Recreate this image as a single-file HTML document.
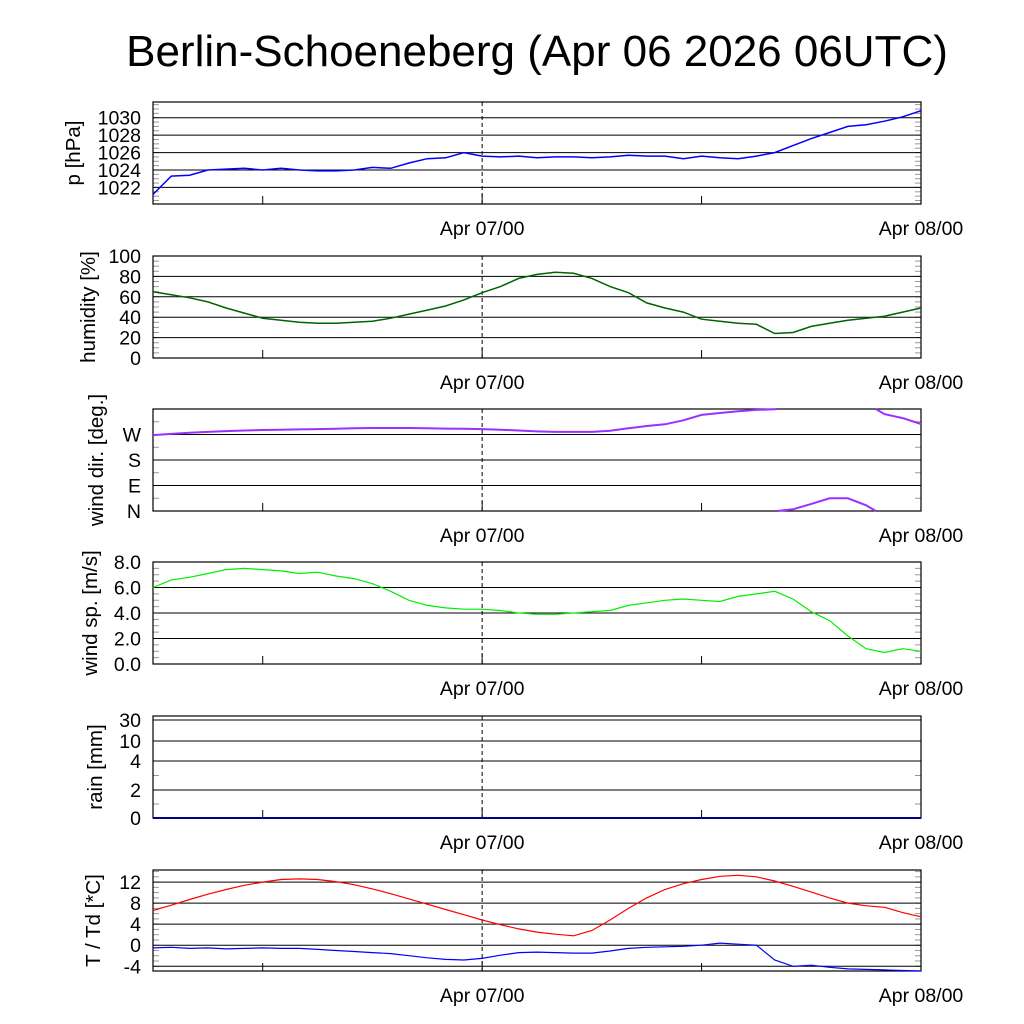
<!DOCTYPE html>
<html><head><meta charset="utf-8"><style>
body{margin:0;background:#fff}
svg{display:block;font-family:"Liberation Sans",sans-serif}
</style></head><body>
<svg id="c" width="1024" height="1024" viewBox="0 0 1024 1024">
<text x="537" y="66" font-size="44" text-anchor="middle">Berlin-Schoeneberg (Apr 06 2026 06UTC)</text>
</svg>
<script>
const hours=[0,1,2,3,4,5,6,7,8,9,10,11,12,13,14,15,16,17,18,19,20,21,22,23,24,25,26,27,28,29,30,31,32,33,34,35,36,37,38,39,40,41,42];
const pressure=[1021.2,1023.3,1023.4,1024.0,1024.1,1024.2,1024.0,1024.2,1024.0,1023.9,1023.9,1024.0,1024.3,1024.2,1024.8,1025.3,1025.4,1026.0,1025.6,1025.5,1025.6,1025.4,1025.5,1025.5,1025.4,1025.5,1025.7,1025.6,1025.6,1025.3,1025.6,1025.4,1025.3,1025.6,1026.0,1026.8,1027.6,1028.3,1029.0,1029.2,1029.6,1030.1,1030.8];
const humidity=[65,62,59,55,49,44,39,37,35,34,34,35,36,39,43,47,51,57,64,70,78,82,84,83,78,70,64,54,49,45,38,36,34,33,24,25,31,34,37,39,41,45,49];
const windDir=[268,272,276,279,282,284,286,287,288,289,290,292,293,293,293,292,291,290,289,287,284,281,279,279,279,283,292,300,306,320,339,346,352,357,359,6,25,45,45,20,342,328,307];
const windSpeed=[6.0,6.6,6.8,7.1,7.4,7.5,7.4,7.3,7.1,7.2,6.9,6.7,6.3,5.7,5.0,4.6,4.4,4.3,4.3,4.2,4.0,3.9,3.9,4.0,4.1,4.2,4.6,4.8,5.0,5.1,5.0,4.9,5.3,5.5,5.7,5.1,4.1,3.4,2.2,1.2,0.9,1.2,1.0];
const rain=[0,0,0,0,0,0,0,0,0,0,0,0,0,0,0,0,0,0,0,0,0,0,0,0,0,0,0,0,0,0,0,0,0,0,0,0,0,0,0,0,0,0,0];
const temp=[6.6,7.6,8.7,9.7,10.6,11.4,12.0,12.5,12.6,12.5,12.1,11.5,10.7,9.8,8.8,7.8,6.8,5.8,4.8,3.9,3.1,2.5,2.1,1.8,2.8,4.8,7.0,9.0,10.6,11.7,12.5,13.1,13.3,13.0,12.2,11.2,10.1,9.0,8.0,7.5,7.2,6.2,5.4];
const dew=[-0.5,-0.4,-0.6,-0.5,-0.7,-0.6,-0.5,-0.6,-0.6,-0.8,-1.0,-1.2,-1.4,-1.6,-2.0,-2.4,-2.7,-2.8,-2.5,-1.9,-1.4,-1.3,-1.4,-1.5,-1.5,-1.1,-0.6,-0.4,-0.3,-0.2,0.0,0.4,0.2,0.0,-2.8,-4.0,-3.8,-4.2,-4.5,-4.6,-4.7,-4.8,-4.9];
const pTicks=[1022,1024,1026,1028,1030];
const hTicks=[0,20,40,60,80,100];
const dirTicks=[0,90,180,270];
const dirLabels=["N","E","S","W"];
const wsTicks=[0,2,4,6,8];
const rainTicks=[0,2,4,10,30];
const tTicks=[-4,0,4,8,12];
const timeLabels=["Apr 07/00","Apr 08/00"];
const timeLabelHours=[18,42];

const NS="http://www.w3.org/2000/svg";
const svg=document.getElementById('c');
const X0=153,X1=921,H0=0,H1=42;
function xs(h){return X0+(h-H0)/(H1-H0)*(X1-X0);}
function mk(tag,attrs,parent){const e=document.createElementNS(NS,tag);for(const k in attrs)e.setAttribute(k,attrs[k]);(parent||svg).appendChild(e);return e;}
function lin(d0,d1,top,bot){return v=>bot-(v-d0)/(d1-d0)*(bot-top);}
function rainScale(top,bot){const vals=[0,2,4,10,30],pos=[818,790,761,741,720];return v=>{for(let i=0;i<vals.length-1;i++){if(v<=vals[i+1]){return pos[i]+(v-vals[i])/(vals[i+1]-vals[i])*(pos[i+1]-pos[i]);}}return pos[4];};}

function panel(name,top,bot,ys,ticks,labels,ylabel,minorStep,mn,mxv,titleX){
  const g=mk('g',{});
  
  
  if(minorStep){for(let v=mn;v<=mxv+1e-9;v+=minorStep){const y=ys(v);if(y<top-0.5||y>bot+0.5)continue;
    mk('line',{x1:X0,x2:X0+6,y1:y,y2:y,stroke:'#999','stroke-width':1},g);mk('line',{x1:X1-6,x2:X1,y1:y,y2:y,stroke:'#999','stroke-width':1},g);}}
  ticks.forEach((v,i)=>{const y=ys(v);
    const gl=mk('line',{x1:X0,x2:X1,y1:y,y2:y,stroke:'#000','stroke-width':1},g);
    
    
    const t=mk('text',{x:X0-12,y:y+7,'font-size':19.5,'text-anchor':'end'},g);t.textContent=labels[i];
    
    
  });
  mk('line',{x1:xs(18),x2:xs(18),y1:top,y2:bot,stroke:'#000','stroke-width':1,'stroke-dasharray':'4,3'},g);
  [6,30].forEach(h=>mk('line',{x1:xs(h),x2:xs(h),y1:bot-8,y2:bot,stroke:'#000','stroke-width':1},g));
  mk('line',{x1:xs(18),x2:xs(18),y1:bot-10,y2:bot,stroke:'#000','stroke-width':1},g);
  const fr=mk('rect',{x:X0,y:top,width:X1-X0,height:bot-top,fill:'none',stroke:'#000','stroke-width':1.2},g);
  
  
  const yl=mk('text',{x:0,y:0,'font-size':20.5,'text-anchor':'middle',transform:`translate(${titleX||95},${(top+bot)/2}) rotate(-90)`},g);
  yl.textContent=ylabel;
  
  
  timeLabels.forEach((s,i)=>{const t=mk('text',{x:xs(timeLabelHours[i]),y:bot+31,'font-size':19.5,'text-anchor':'middle'},g);t.textContent=s;
    
    });
  return g;
}
function series(g,name,vals,ys,color,w,wrap){
  let segs=[[]];
  vals.forEach((v,i)=>{
    if(wrap&&i>0&&Math.abs(v-vals[i-1])>180){
      const prev=vals[i-1];let a,b;
      if(prev>v){a=360;b=0;}else{a=0;b=360;}
      const dv=(prev>v)?(v+360-prev):(v-360-prev);const f=(a-prev)/dv;const hx=hours[i-1]+f;
      segs[segs.length-1].push([xs(hx),ys(a)]);segs.push([[xs(hx),ys(b)]]);
    }
    segs[segs.length-1].push([xs(hours[i]),ys(v)]);
  });
  segs.forEach(s=>{const p=mk('polyline',{points:s.map(q=>q[0].toFixed(1)+','+q[1].toFixed(1)).join(' '),fill:'none',stroke:color,'stroke-width':w},g);
    
    });
}
let ys,g;
ys=lin(1020.1,1031.8,102,204);
g=panel('pressure',102,204,ys,pTicks,pTicks.map(String),'p [hPa]',0.5,1020.5,1031.5,80);
series(g,'pressure',pressure,ys,'#0000ff',1.5);
ys=lin(0,100,256,358);
g=panel('humidity',256,358,ys,hTicks,hTicks.map(String),'humidity [%]',5,0,100);
series(g,'humidity',humidity,ys,'#006400',1.5);
ys=lin(0,360,409,511);
g=panel('wind-direction',409,511,ys,dirTicks,dirLabels,'wind dir. [deg.]',45,0,360,103);
series(g,'wind-direction',windDir,ys,'#9b30ff',2,true);
ys=lin(0,8,562,664);
g=panel('wind-speed',562,664,ys,wsTicks,wsTicks.map(v=>v.toFixed(1)),'wind sp. [m/s]',0.5,0,8,97);
series(g,'wind-speed',windSpeed,ys,'#00ee00',1.2);
ys=rainScale(716,818);
g=panel('rain',716,818,ys,rainTicks,rainTicks.map(String),'rain [mm]',1,0,3,102);
series(g,'rain',rain,ys,'#00008b',2);
ys=lin(-4.9,14.3,870,971);
g=panel('temperature',870,971,ys,tTicks,tTicks.map(String),'T / Td [*C]',1,-4,14,100);
series(g,'temperature',temp,ys,'#ff0000',1.2);
series(g,'dewpoint',dew,ys,'#0000ff',1.2);
</script>
</body></html>
